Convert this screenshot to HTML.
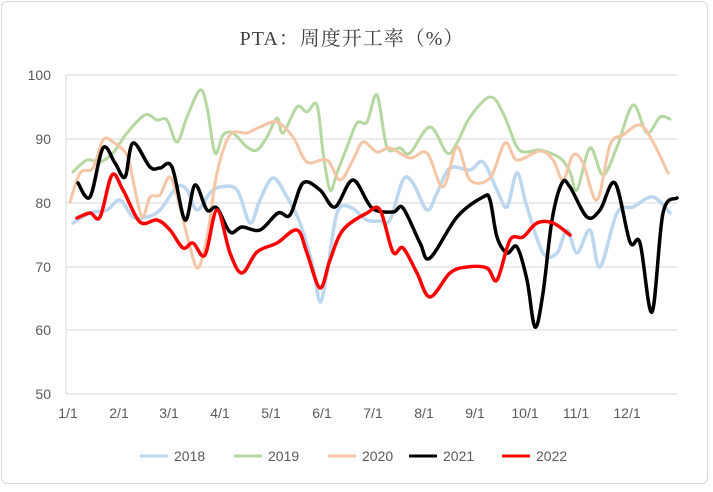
<!DOCTYPE html>
<html><head><meta charset="utf-8"><style>
body{margin:0;background:#fff}
svg text{font-family:"Liberation Sans","Noto Sans CJK SC",sans-serif;fill:#595959}
</style></head><body>
<svg id="s" width="713" height="487" xmlns="http://www.w3.org/2000/svg">
<rect x="1.5" y="1.5" width="706" height="482" rx="6" fill="#fff" stroke="#d9d9d9"/>
<text x="352" y="45" font-size="20" text-anchor="middle" style="font-family:'Liberation Serif','Noto Serif CJK SC',serif;fill:#404040;letter-spacing:1px">PTA：周度开工率（%）</text>
<g stroke="#d9d9d9" stroke-width="1">
<line x1="66" y1="75" x2="678" y2="75"/><line x1="66" y1="139" x2="678" y2="139"/>
<line x1="66" y1="203" x2="678" y2="203"/><line x1="66" y1="267" x2="678" y2="267"/>
<line x1="66" y1="330" x2="678" y2="330"/><line x1="66" y1="394" x2="678" y2="394"/>
<line x1="66" y1="75" x2="66" y2="394"/>
</g>
<g font-size="14" text-anchor="end">
<text x="51" y="80">100</text><text x="51" y="144">90</text><text x="51" y="208">80</text>
<text x="51" y="272">70</text><text x="51" y="335">60</text><text x="51" y="399">50</text>
</g>
<g font-size="14" text-anchor="middle">
<text x="68" y="418">1/1</text><text x="119" y="418">2/1</text><text x="169" y="418">3/1</text>
<text x="220" y="418">4/1</text><text x="271" y="418">5/1</text><text x="322" y="418">6/1</text>
<text x="373" y="418">7/1</text><text x="424" y="418">8/1</text><text x="475" y="418">9/1</text>
<text x="525" y="418">10/1</text><text x="576" y="418">11/1</text><text x="627" y="418">12/1</text>
</g>
<g id="lines" fill="none" stroke-linejoin="round" stroke-linecap="round"></g>
<g font-size="14">
<line x1="140" y1="456" x2="168" y2="456" stroke="#bdd7ee" stroke-width="3"/><text x="174" y="461">2018</text>
<line x1="234" y1="456" x2="262" y2="456" stroke="#b5d8a0" stroke-width="3"/><text x="268" y="461">2019</text>
<line x1="328" y1="456" x2="356" y2="456" stroke="#f5c6a5" stroke-width="3"/><text x="362" y="461">2020</text>
<line x1="409" y1="456" x2="437" y2="456" stroke="#000" stroke-width="3"/><text x="443" y="461">2021</text>
<line x1="502" y1="456" x2="530" y2="456" stroke="#f00" stroke-width="3"/><text x="536" y="461">2022</text>
</g>
</svg>
<script>
var D=[
["#bdd7ee",3.5,[73,223,90,213,107,210,120,200,133,217,147,217,160,210,177,187,187,190,197,210,210,193,220,187,237,190,250,223,260,200,273,178,287,197,300,223,313,267,320,302,327,273,337,213,350,207,367,220,380,221,390,220,403,180,413,183,427,210,437,193,450,168,470,170,483,162,497,190,507,207,517,173,527,207,543,253,557,253,567,230,577,253,590,230,600,267,617,213,633,207,653,197,670,213]],
["#b5d8a0",3,[73,172,87,160,100,162,113,153,127,133,145,115,157,120,167,120,177,142,187,117,200,90,207,107,215,153,223,135,233,133,247,147,257,150,267,137,277,118,283,133,297,107,307,112,317,105,323,152,330,190,337,173,347,147,357,123,367,122,377,95,387,147,400,148,410,153,430,127,447,153,457,143,470,117,490,97,503,113,517,147,527,152,540,150,560,158,570,172,577,190,590,148,603,175,617,147,633,105,647,133,660,117,670,119]],
["#f5c6a5",3,[70,202,80,173,93,168,103,140,113,142,127,155,133,180,142,217,150,197,160,195,170,177,180,207,190,247,198,268,207,237,217,173,230,135,247,133,260,127,277,122,293,137,307,162,327,160,340,180,353,160,363,142,377,152,390,148,410,158,427,153,443,187,457,147,470,180,490,178,505,143,517,160,540,151,553,160,563,180,573,155,583,163,597,200,610,145,623,135,640,125,653,142,668,173]],
["#000",3.5,[78,183,90,197,103,148,115,163,125,177,133,143,150,167,160,168,172,167,185,220,195,185,207,210,217,208,230,232,242,227,260,230,278,213,290,215,303,183,320,190,335,207,353,180,372,208,393,212,403,208,420,243,430,258,457,217,483,197,490,200,497,237,507,253,517,247,527,280,535,327,543,293,552,220,562,183,570,187,587,217,600,210,615,183,630,242,640,243,652,312,663,213,677,198]],
["#f00",3.5,[77,218,90,213,100,217,112,175,123,190,140,222,157,220,170,230,183,248,193,243,205,255,217,210,230,253,242,273,257,252,277,243,297,230,307,253,320,288,330,260,343,230,367,213,380,210,393,252,403,248,417,273,430,297,450,273,467,267,487,268,497,280,510,240,523,237,537,223,553,223,570,235]]];
var g=document.getElementById('lines'),ns='http://www.w3.org/2000/svg';
D.forEach(function(s){var p=s[2],P=[];for(var i=0;i<p.length;i+=2)P.push([p[i],p[i+1]]);
var d='M'+P[0][0]+','+P[0][1];
for(var i=0;i<P.length-1;i++){var a=P[i-1]||P[i],b=P[i],c=P[i+1],e=P[i+2]||c;
d+='C'+(b[0]+(c[0]-a[0])/6).toFixed(1)+','+(b[1]+(c[1]-a[1])/6).toFixed(1)+' '+(c[0]-(e[0]-b[0])/6).toFixed(1)+','+(c[1]-(e[1]-b[1])/6).toFixed(1)+' '+c[0]+','+c[1];}
var el=document.createElementNS(ns,'path');el.setAttribute('d',d);el.setAttribute('stroke',s[0]);el.setAttribute('stroke-width',s[1]);g.appendChild(el);});
</script>
</body></html>
